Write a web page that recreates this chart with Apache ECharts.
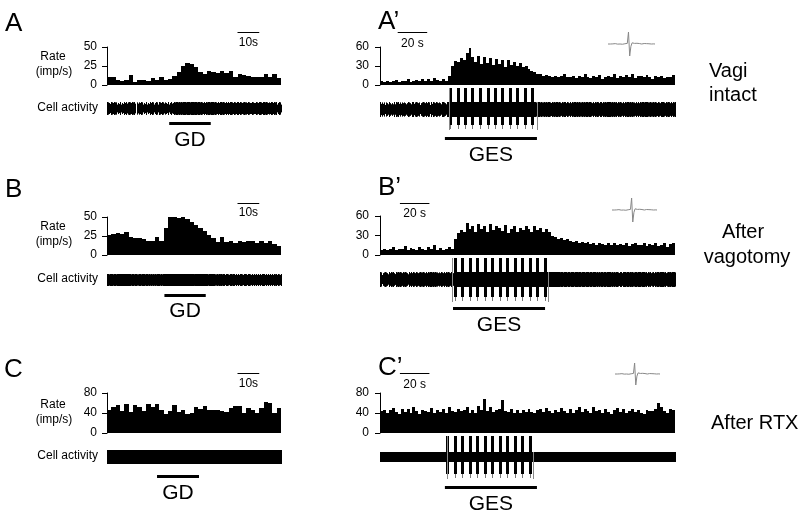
<!DOCTYPE html>
<html><head><meta charset="utf-8">
<script src="https://cdn.jsdelivr.net/npm/echarts@6/dist/echarts.min.js"></script>
<style>html,body{margin:0;padding:0;background:#fff}#c{width:800px;height:518px}</style>
</head><body><div id="c"></div>
<script>
// ---------- DATA ----------
const binSec = 2; // histogram bin width (s)
// Left column (GD), 80 s records, 2-s bins (imp/s)
const rateA = [10,10,6,5,7,13,4,7,6,5,9,7,11,7,8,12,17,25,29,28,24,17,14,18,17,16,18,16,18,11,14,13,12,11,11,10,14,11,14,9];
const rateB = [26,27,29,28,30,24,22,22,21,18,19,24,18,36,50,50,49,50,48,44,40,35,31,26,22,17,24,17,19,16,18,17,19,18,16,18,16,18,15,12];
const rateC = [47,52,57,45,58,43,57,53,44,58,53,58,46,38,44,56,42,47,38,40,53,48,55,47,47,47,45,43,50,54,55,40,50,46,40,50,63,60,40,50];
// Right column (GES), 200 s records, 2-s bins (imp/s)
const rateA2 = [6,5,7,4,6,8,5,7,6,9,5,7,8,6,10,7,9,6,11,8,7,10,6,14,30,38,36,42,40,50,
  58,44,36,46,33,44,35,43,31,41,33,40,29,39,31,37,30,35,28,30,25,22,20,18,17,15,16,14,13,15,
  12,14,18,13,12,15,11,14,12,17,13,11,14,12,16,10,13,15,12,18,11,14,13,16,12,17,11,14,15,12,
  16,13,10,14,12,15,11,13,12,16];
const rateB2 = [8,10,7,9,12,8,10,9,14,8,11,9,7,12,10,8,13,9,15,8,11,7,9,12,10,24,34,38,36,50,
  40,44,36,47,40,45,35,48,38,44,42,37,46,34,40,45,36,42,38,44,40,36,45,38,42,35,40,36,30,27,
  25,26,23,24,21,20,22,19,20,18,20,17,19,16,18,17,15,18,16,19,15,17,16,18,14,17,19,15,16,18,
  14,17,15,19,14,16,18,13,17,19];
const rateC2 = [44,47,40,46,50,43,39,48,42,49,41,52,45,38,47,44,42,50,40,46,43,48,41,52,45,42,49,44,47,53,
  41,46,40,55,47,69,44,52,42,46,48,66,45,43,49,41,46,40,47,43,49,42,40,46,48,42,51,44,40,47,
  43,51,45,41,48,40,46,53,42,49,45,40,52,44,47,41,49,43,38,46,50,42,48,40,45,49,43,47,41,39,
  46,44,45,48,60,52,45,40,49,47];
// stimulation periods (s)
const gdA = [28.6, 47.7], gdB = [26.4, 45.4], gdC = [23.0, 42.3];
const gesA2 = [44.0, 106.4], gesB2 = [49.5, 111.9], gesC2 = [44.0, 106.4];
// stimulation artifacts (pulse times, s) and stim on/off edges
const pulsesA2 = [47.5,52.6,57.7,62.7,67.8,72.9,78.0,83.0,88.1,93.2,98.3,103.0];
const pulsesB2 = [50.8,55.9,61.0,66.0,71.1,76.2,81.3,86.4,91.4,96.5,101.6,106.7,111.8];
const pulsesC2 = [45.6,50.7,55.8,60.8,65.9,71.0,76.1,81.2,86.2,91.3,96.4,101.6];
const edgesA2 = [46.8, 106.4], edgesB2 = [49.0, 114.0], edgesC2 = [45.2, 103.7];
// averaged spike waveform (normalised)
const spikeWave = [0,0.02,0,-0.02,0.01,0,0.03,0,-0.01,0.02,0,0.01,-0.02,0,0.02,0.01,0.05,1,-1,-0.2,
  0.1,0.08,0.05,0.03,0.06,0.02,0.04,0.03,0,0.02,0.04,0.01,0.03,0,0.02,0.01,0,-0.01,0.01,0];
// axis ticks
const yMaxAB = 50, yIntAB = 25, yMaxC = 80, yIntC = 40, yMaxAB2 = 60, yIntAB2 = 30;

// ---------- LAYOUT ----------
const FONT = '"Liberation Sans", Arial, Helvetica, sans-serif';
const panels = [
  {rates:rateA, dur:80, yMax:yMaxAB, yInt:yIntAB, hist:[107,47,174,38], yOff:2, trace:[102,13], bar:122, stim:gdA, label:'GD', labDy:18,
   scale:{t0:60, len:10, txt:'10s', dy:15, ty:4}, div:2.5},
  {rates:rateB, dur:80, yMax:yMaxAB, yInt:yIntAB, hist:[107,217,174,38], yOff:2, trace:[274,12], bar:294, stim:gdB, label:'GD', labDy:17,
   scale:{t0:60, len:10, txt:'10s', dy:14, ty:4}, div:2.5},
  {rates:rateC, dur:80, yMax:yMaxC, yInt:yIntC, hist:[107,393,174,40], yOff:2, trace:[450,14], bar:475, stim:gdC, label:'GD', labDy:18,
   scale:{t0:60, len:10, txt:'10s', dy:20, ty:9}, div:2.5},
  {rates:rateA2, dur:200, yMax:yMaxAB2, yInt:yIntAB2, hist:[380,47,295,38], yOff:3, trace:[102,15], bar:137, stim:gesA2, label:'GES', labDy:18,
   scale:{t0:12, len:20, txt:'20 s', dy:15, ty:3}, div:3, pulses:pulsesA2, edges:edgesA2, up:14, down:8,
   inset:[608,32,47,24]},
  {rates:rateB2, dur:200, yMax:yMaxAB2, yInt:yIntAB2, hist:[380,216,295,39], yOff:3, trace:[272,15], bar:307, stim:gesB2, label:'GES', labDy:18,
   scale:{t0:13.5, len:20, txt:'20 s', dy:13, ty:2}, div:3, pulses:pulsesB2, edges:edgesB2, up:14, down:10,
   inset:[612,198,45,24]},
  {rates:rateC2, dur:200, yMax:yMaxC, yInt:yIntC, hist:[380,393,295,40], yOff:3, trace:[452,10], bar:486, stim:gesC2, label:'GES', labDy:18,
   scale:{t0:13.5, len:20, txt:'20 s', dy:20, ty:8}, div:3, pulses:pulsesC2, edges:edgesC2, up:16, down:12,
   inset:[615,363,45,22]}
];

const grids = [], xAxes = [], yAxes = [], series = [];
function addGrid(l,t,w,h){ grids.push({left:l, top:t, width:w, height:h}); return grids.length-1; }
function addX(gi, o){ xAxes.push(Object.assign({gridIndex:gi, show:false}, o)); return xAxes.length-1; }
function addY(gi, o){ yAxes.push(Object.assign({gridIndex:gi, show:false}, o)); return yAxes.length-1; }

function traceRender(div){
  const amps = [1,0.75,0.95,0.6,0.85,0.7];
  return function(params, api){
    const t0 = api.value(0), t1 = api.value(1), r = api.value(2);
    const n = Math.max(1, Math.round(r*(t1-t0)/div));
    const ch = [];
    for (let k=0;k<n;k++){
      const t = t0 + (k+0.5)*(t1-t0)/n;
      const a = amps[(params.dataIndex*7+k)%amps.length];
      const p1 = api.coord([t, a]), p2 = api.coord([t, -a]);
      const x = Math.round(p1[0])+0.5;
      ch.push({type:'line', shape:{x1:x,y1:p1[1],x2:x,y2:p2[1]}, style:{stroke:'#000', lineWidth:1}});
    }
    return {type:'group', children:ch};
  };
}
function histRender(params, api){
  const a = api.coord([api.value(0), api.value(2)]), b = api.coord([api.value(1), 0]);
  const x0 = Math.round(a[0]), x1 = Math.round(b[0]);
  const y0 = Math.round(a[1]), y1 = Math.round(b[1]);
  return {type:'rect', shape:{x:x0, y:y0, width:x1-x0, height:y1-y0}, style:{fill:'#000'}};
}

panels.forEach(p => {
  // histogram
  const g = addGrid(p.hist[0], p.hist[1], p.hist[2], p.hist[3]);
  const xv = addX(g, {type:'value', min:0, max:p.dur});
  const y = yAxes.push({gridIndex:g, type:'value', min:0, max:p.yMax, interval:p.yInt, offset:p.yOff,
    axisLine:{show:true, lineStyle:{color:'#000', width:1}},
    axisTick:{show:true, length:5, lineStyle:{color:'#000', width:1}},
    axisLabel:{color:'#000', fontSize:12, fontFamily:FONT, margin:8},
    splitLine:{show:false}}) - 1;
  series.push({type:'custom', xAxisIndex:xv, yAxisIndex:y, silent:true,
    data:p.rates.map((r,i)=>[i*binSec, (i+1)*binSec, r]), renderItem:histRender});
  // scale bar
  const s = p.scale;
  series.push({type:'custom', xAxisIndex:xv, yAxisIndex:y, data:[[s.t0, s.t0+s.len]], silent:true,
    renderItem:(params, api)=>{
      const cs = params.coordSys;
      const x0 = api.coord([api.value(0),0])[0], x1 = api.coord([api.value(1),0])[0];
      const ly = Math.round(cs.y - s.dy)+0.5;
      return {type:'group', children:[
        {type:'line', shape:{x1:x0,y1:ly,x2:x1,y2:ly}, style:{stroke:'#000', lineWidth:1}},
        {type:'text', x:(x0+x1)/2, y:cs.y - s.ty, style:{text:s.txt, fill:'#000', font:'12px '+FONT, align:'center', verticalAlign:'middle'}}
      ]};
    }});
  // cell activity trace
  const tg = addGrid(p.hist[0], p.trace[0], p.hist[2], p.trace[1]);
  const tx = addX(tg, {type:'value', min:0, max:p.dur});
  const ty = addY(tg, {type:'value', min:-1, max:1});
  series.push({type:'custom', xAxisIndex:tx, yAxisIndex:ty, silent:true,
    data:p.rates.map((r,i)=>[i*binSec, (i+1)*binSec, r]), renderItem:traceRender(p.div)});
  if (p.pulses){
    series.push({type:'custom', xAxisIndex:tx, yAxisIndex:ty, silent:true, data:p.pulses.map(t=>[t]),
      renderItem:(params, api)=>{
        const cs = params.coordSys;
        const x = Math.round(api.coord([api.value(0),0])[0]);
        const top = cs.y - p.up, bot = cs.y + cs.height + p.down;
        return {type:'group', children:[
          {type:'rect', shape:{x:x-1, y:top, width:3, height:bot-top}, style:{fill:'#000'}},
          {type:'line', shape:{x1:x+0.5, y1:bot, x2:x+0.5, y2:bot+4}, style:{stroke:'#777', lineWidth:1}}
        ]};
      }});
    series.push({type:'custom', xAxisIndex:tx, yAxisIndex:ty, silent:true, data:p.edges.map(t=>[t]),
      renderItem:(params, api)=>{
        const cs = params.coordSys;
        const x = Math.round(api.coord([api.value(0),0])[0])+0.5;
        const top = params.dataIndex===0 ? cs.y - p.up : cs.y;
        return {type:'line', shape:{x1:x, y1:top, x2:x, y2:cs.y+cs.height+p.down+5}, style:{stroke:'#888', lineWidth:1}};
      }});
  }
  // stimulation bar + label
  const bg = addGrid(p.hist[0], p.bar, p.hist[2], 3);
  const bx = addX(bg, {type:'value', min:0, max:p.dur});
  const by = addY(bg, {type:'value', min:0, max:1});
  series.push({type:'custom', xAxisIndex:bx, yAxisIndex:by, silent:true, data:[p.stim],
    renderItem:(params, api)=>{
      const a = api.coord([api.value(0),1]), b = api.coord([api.value(1),0]);
      return {type:'group', children:[
        {type:'rect', shape:{x:a[0], y:a[1], width:b[0]-a[0], height:b[1]-a[1]}, style:{fill:'#000'}},
        {type:'text', x:(a[0]+b[0])/2, y:a[1]+p.labDy, style:{text:p.label, fill:'#000', font:'21px '+FONT, align:'center', verticalAlign:'middle'}}
      ]};
    }});
  // spike waveform inset
  if (p.inset){
    const ig = addGrid(p.inset[0], p.inset[1], p.inset[2], p.inset[3]);
    const ix = addX(ig, {type:'category', data:spikeWave.map((_,i)=>i), boundaryGap:false});
    const iy = addY(ig, {type:'value', min:-1, max:1});
    series.push({type:'line', xAxisIndex:ix, yAxisIndex:iy, data:spikeWave, showSymbol:false, silent:true,
      lineStyle:{color:'#888', width:1}});
  }
});

function txt(s, x, y, size, align){
  return {type:'text', x:x, y:y, silent:true, style:{text:s, fill:'#000', font:size+'px '+FONT, align:align||'left', verticalAlign:'middle'}};
}
const graphics = [
  txt('A', 5, 24, 26), txt('B', 5, 190, 26), txt('C', 4, 370, 26),
  txt('A\u2019', 378, 22, 26), txt('B\u2019', 378, 188, 26), txt('C\u2019', 378, 368, 26),
  txt('Rate', 53, 57, 12, 'center'), txt('(imp/s)', 54, 72, 12, 'center'),
  txt('Rate', 53, 227, 12, 'center'), txt('(imp/s)', 54, 242, 12, 'center'),
  txt('Rate', 53, 405, 12, 'center'), txt('(imp/s)', 54, 420, 12, 'center'),
  txt('Cell activity', 98, 108, 12, 'right'), txt('Cell activity', 98, 279, 12, 'right'), txt('Cell activity', 98, 456, 12, 'right'),
  txt('Vagi', 709, 71, 20), txt('intact', 709, 95, 20),
  txt('After', 743, 232, 20, 'center'), txt('vagotomy', 747, 257, 20, 'center'),
  txt('After RTX', 711, 423, 20)
];

const chart = echarts.init(document.getElementById('c'), null, {width:800, height:518});
chart.setOption({
  animation:false, backgroundColor:'#fff',
  grid:grids, xAxis:xAxes, yAxis:yAxes, series:series, graphic:graphics
});
</script></body></html>
